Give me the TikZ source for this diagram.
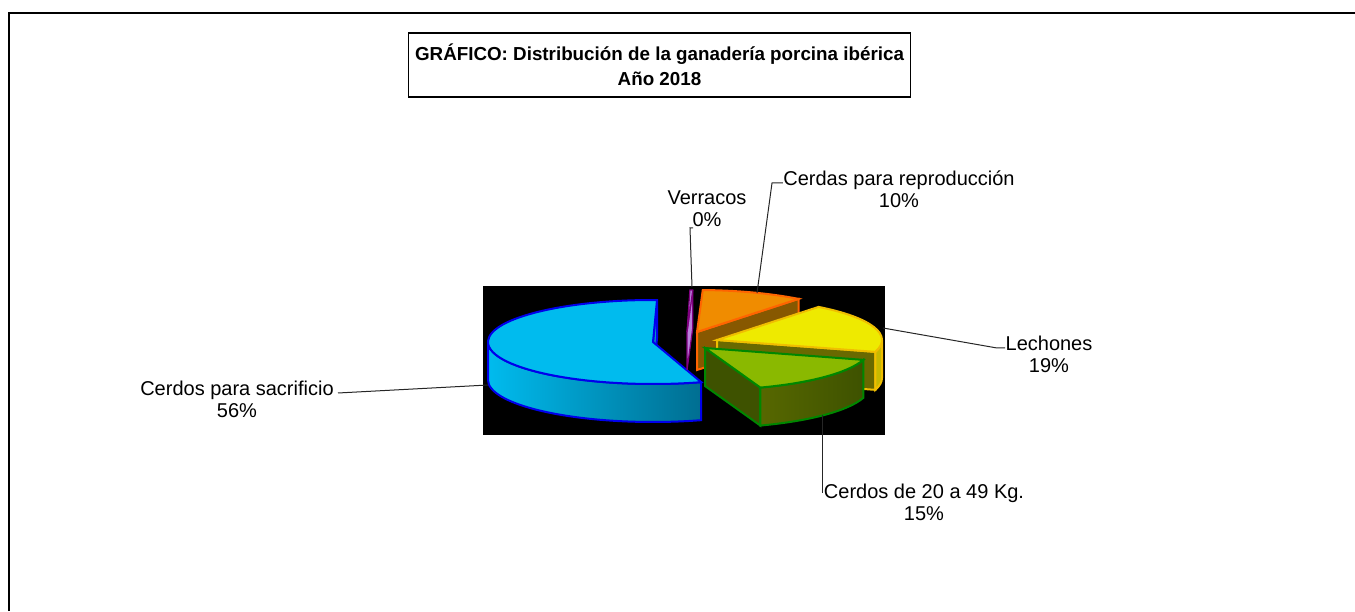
\documentclass[tikz,border=0pt]{standalone}
\usepackage{fontspec}
\setmainfont{Liberation Sans}
\definecolor{bluetopc}{RGB}{0,187,238}
\definecolor{bluedark}{RGB}{0,110,145}
\definecolor{bluecutc}{RGB}{0,150,195}
\definecolor{blueline}{RGB}{0,0,235}
\definecolor{violettop}{RGB}{185,130,220}
\definecolor{violetline}{RGB}{128,0,128}
\definecolor{orangetop}{RGB}{240,140,0}
\definecolor{orangecutc}{RGB}{135,88,0}
\definecolor{orangeline}{RGB}{255,100,0}
\definecolor{yellowtop}{RGB}{238,234,0}
\definecolor{yellowside}{RGB}{200,185,0}
\definecolor{yellowcutc}{RGB}{105,105,0}
\definecolor{yellowline}{RGB}{240,190,0}
\definecolor{greentop}{RGB}{138,185,0}
\definecolor{greenside}{RGB}{100,115,0}
\definecolor{greencutc}{RGB}{62,82,0}
\definecolor{greenline}{RGB}{0,135,0}
\tikzset{
  lbl/.style={align=center,inner sep=0pt,font=\fontsize{10pt}{11pt}\selectfont},
  leader/.style={line width=0.5pt,black!85},
  blueface/.style={line width=1pt,draw=blueline},
  violetface/.style={line width=0.6pt,draw=violetline,fill=violettop},
  orangeface/.style={line width=1pt,draw=orangeline},
  yellowface/.style={line width=1pt,draw=yellowline},
  greenface/.style={line width=1pt,draw=greenline},
  rx/.style={x radius=165,y radius=42}
}
\begin{document}
\begin{tikzpicture}[x=0.5pt,y=0.5pt]
\useasboundingbox (0,0) rectangle (1355,611);
\draw[line width=1pt] (9,0) -- (9,598) -- (1355,598);
\node[draw,line width=0.6pt,minimum width=250.5pt,minimum height=32pt,align=center,
  font=\bfseries\fontsize{9.4pt}{12.5pt}\selectfont] (title) at (659.5,546)
  {GRÁFICO: Distribución de la ganadería porcina ibérica\\Año 2018};
\fill[black] (483,176) rectangle (885,325);

\filldraw[blueface,fill=bluecutc] (653,269) -- ++(88.6:165 and 42) -- ++(0,-38) -- (653,231) -- cycle;
\shadedraw[blueface,left color=bluetopc,right color=bluedark] (653,269) ++(180:165 and 42)
  arc[start angle=180,end angle=287,rx] -- ++(0,-38) arc[start angle=287,end angle=180,rx] -- cycle;
\filldraw[blueface,fill=bluetopc] (653,269) -- ++(88.6:165 and 42) arc[start angle=88.6,end angle=287,rx] -- cycle;

\filldraw[violetface] (687,279) -- ++(88:165 and 42) -- ++(0,-38) -- (687,241) -- cycle;
\filldraw[violetface] (687,279) -- ++(88:165 and 42) arc[start angle=88,end angle=89,rx] -- cycle;

\filldraw[orangeface,fill=orangecutc] (697,279) -- ++(52:165 and 42) -- ++(0,-38) -- (697,241) -- cycle;
\filldraw[orangeface,fill=orangetop] (697,279) -- ++(52:165 and 42) arc[start angle=52,end angle=88,rx] -- cycle;

\filldraw[yellowface,fill=yellowcutc] (717,271) -- ++(-16.4:165 and 42) -- ++(0,-38) -- (717,233) -- cycle;
\filldraw[yellowface,fill=yellowside] (717,271) ++(-16.4:165 and 42)
  arc[start angle=-16.4,end angle=0,rx] -- ++(0,-38) arc[start angle=0,end angle=-16.4,rx] -- cycle;
\filldraw[yellowface,fill=yellowtop] (717,271) -- ++(-16.4:165 and 42) arc[start angle=-16.4,end angle=52,rx] -- cycle;

\filldraw[greenface,fill=greencutc] (705,263) -- ++(-70.4:165 and 42) -- ++(0,-38) -- (705,225) -- cycle;
\shadedraw[greenface,left color=greenside,right color=greencutc] (705,263) ++(-70.4:165 and 42)
  arc[start angle=-70.4,end angle=-16.4,rx] -- ++(0,-38) arc[start angle=-16.4,end angle=-70.4,rx] -- cycle;
\filldraw[greenface,fill=greentop] (705,263) -- ++(-70.4:165 and 42) arc[start angle=-70.4,end angle=-16.4,rx] -- cycle;

\node[lbl] (verracos) at (707,402) {Verracos\\0\%};
\node[lbl] (cerdas) at (899,422) {Cerdas para reproducción\\10\%};
\node[lbl] (lechones) at (1049,257) {Lechones\\19\%};
\node[lbl] (cerdos20) at (924,109) {Cerdos de 20 a 49 Kg.\\15\%};
\node[lbl] (sacrificio) at (237,212) {Cerdos para sacrificio\\56\%};

\coordinate (p-verr) at (692,324);
\coordinate (k-verr) at (690,383);
\coordinate (p-cerd) at (757,318);
\coordinate (k-cerd) at (772,428);
\coordinate (p-lech) at (883,283);
\coordinate (k-lech) at (997,263);
\coordinate (p-c20) at (822,196);
\coordinate (k-c20) at (822,118);
\coordinate (p-sac) at (488,226);
\coordinate (k-sac) at (338,218);

\draw[leader] (p-verr) -- (k-verr) -- ++(3,0);
\draw[leader] (p-cerd) -- (k-cerd) -- (k-cerd -| cerdas.west);
\draw[leader] (p-lech) -- (k-lech) -- (k-lech -| lechones.west);
\draw[leader] (p-c20) -- (k-c20);
\draw[leader] (p-sac) -- (k-sac);
\end{tikzpicture}
\end{document}
